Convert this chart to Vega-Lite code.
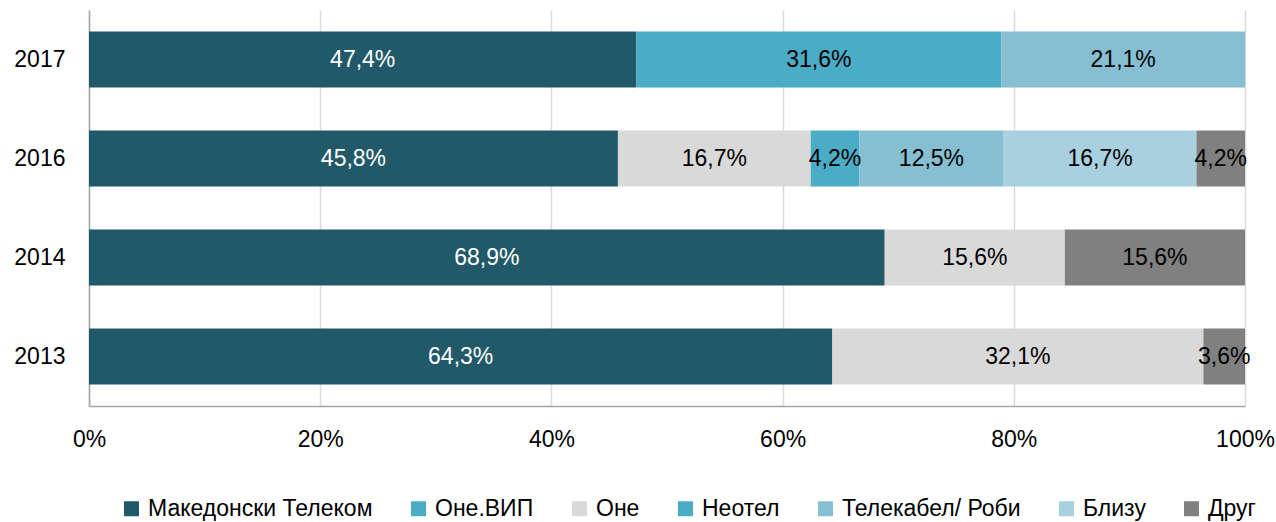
{
  "$schema": "https://vega.github.io/schema/vega-lite/v6.json",
  "width": 1156,
  "height": 396,
  "autosize": "none",
  "padding": {"left": 89, "top": 10, "right": 31, "bottom": 116},
  "background": "white",
  "config": {
    "locale": {"number": {"decimal": ",", "thousands": ".", "grouping": [3], "currency": ["", " €"]}},
    "font": "Liberation Sans",
    "view": {"stroke": null}
  },
  "data": {
    "values": [
      {"year": "2017", "cat": "Македонски Телеком", "share": 0.474},
      {"year": "2017", "cat": "Оне.ВИП", "share": 0.316},
      {"year": "2017", "cat": "Телекабел/ Роби", "share": 0.211},
      {"year": "2016", "cat": "Македонски Телеком", "share": 0.458},
      {"year": "2016", "cat": "Оне", "share": 0.167},
      {"year": "2016", "cat": "Неотел", "share": 0.042},
      {"year": "2016", "cat": "Телекабел/ Роби", "share": 0.125},
      {"year": "2016", "cat": "Близу", "share": 0.167},
      {"year": "2016", "cat": "Друг", "share": 0.042},
      {"year": "2014", "cat": "Македонски Телеком", "share": 0.689},
      {"year": "2014", "cat": "Оне", "share": 0.156},
      {"year": "2014", "cat": "Друг", "share": 0.156},
      {"year": "2013", "cat": "Македонски Телеком", "share": 0.643},
      {"year": "2013", "cat": "Оне", "share": 0.321},
      {"year": "2013", "cat": "Друг", "share": 0.036}
    ]
  },
  "encoding": {
    "y": {
      "field": "year", "type": "nominal",
      "sort": ["2017", "2016", "2014", "2013"],
      "scale": {"paddingInner": 0.434, "paddingOuter": 0.217},
      "axis": {
        "title": null, "ticks": false, "labelFontSize": 23, "labelColor": "#000000",
        "labelPadding": 24, "domainColor": "#a6a6a6", "domainWidth": 1.5, "grid": false
      }
    },
    "x": {
      "field": "share", "type": "quantitative", "stack": "normalize",
      "scale": {"domain": [0, 1]},
      "axis": {
        "title": null, "format": ".0%", "values": [0, 0.2, 0.4, 0.6, 0.8, 1],
        "ticks": false, "labelFontSize": 23, "labelColor": "#000000", "labelPadding": 22,
        "domainColor": "#a6a6a6", "domainWidth": 1.5,
        "grid": true, "gridColor": "#d9d9d9", "gridWidth": 1.5,
        "labelFlush": false
      }
    },
    "order": {"field": "year", "type": "nominal"}
  },
  "layer": [
    {
      "mark": {"type": "bar"},
      "encoding": {
        "color": {
          "field": "cat", "type": "nominal",
          "sort": ["Македонски Телеком", "Оне.ВИП", "Оне", "Неотел", "Телекабел/ Роби", "Близу", "Друг"],
          "scale": {
            "domain": ["Македонски Телеком", "Оне.ВИП", "Оне", "Неотел", "Телекабел/ Роби", "Близу", "Друг"],
            "range": ["#215968", "#4bacc6", "#d9d9d9", "#4bacc6", "#86bfd1", "#a9d0de", "#808080"]
          },
          "legend": {
            "title": null, "orient": "none", "direction": "horizontal",
            "legendX": 31, "legendY": 487,
            "symbolType": "square", "symbolSize": 225, "symbolStrokeWidth": 0,
            "labelFontSize": 23, "labelColor": "#000000", "labelOffset": 5,
            "columnPadding": 34, "labelLimit": 400
          }
        }
      }
    },
    {
      "mark": {"type": "text", "fontSize": 23, "align": "center", "baseline": "middle"},
      "encoding": {
        "x": {"field": "share", "type": "quantitative", "stack": "normalize", "bandPosition": 0.5},
        "text": {"field": "share", "type": "quantitative", "format": ".1%"},
        "color": {
          "field": "cat", "type": "nominal",
          "sort": ["Македонски Телеком", "Оне.ВИП", "Оне", "Неотел", "Телекабел/ Роби", "Близу", "Друг"],
          "scale": {
            "domain": ["Македонски Телеком", "Оне.ВИП", "Оне", "Неотел", "Телекабел/ Роби", "Близу", "Друг"],
            "range": ["#ffffff", "#000000", "#000000", "#000000", "#000000", "#000000", "#000000"]
          },
          "legend": null
        }
      }
    }
  ],
  "resolve": {"scale": {"color": "independent"}}
}
